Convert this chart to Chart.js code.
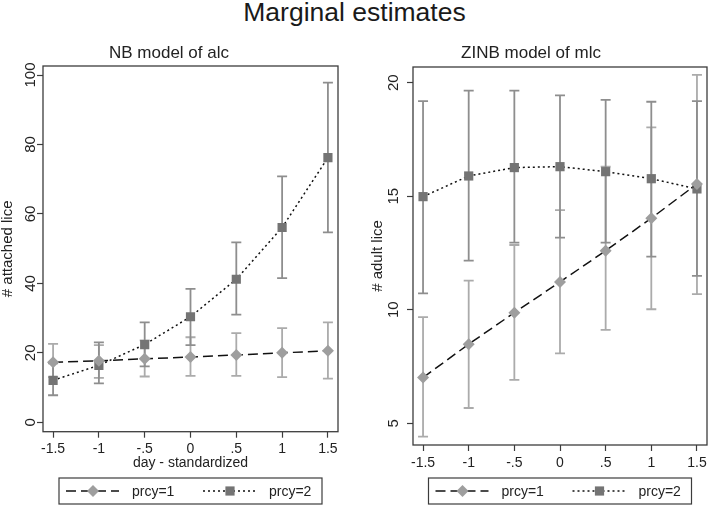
<!DOCTYPE html>
<html>
<head>
<meta charset="utf-8">
<script src="https://cdn.jsdelivr.net/npm/chart.js@4/dist/chart.umd.min.js"></script>
<style>
  body { margin: 0; background: #fff; }
  #wrap { position: relative; width: 709px; height: 507px; overflow: hidden; }
  #main-title {
    position: absolute; left: 0; top: 0; width: 709px; text-align: center;
    font: 26.5px/25px "Liberation Sans", Arial, sans-serif; color: #1a1a1a;
  }
  .panel { position: absolute; top: 35px; height: 472px; }
  #alc-panel { left: 0; width: 350px; }
  #mlc-panel { left: 355px; width: 354px; }
</style>
</head>
<body>
<div id="wrap">
  <div id="main-title">Marginal estimates</div>
  <div class="panel" id="alc-panel"><canvas id="alc-chart"></canvas></div>
  <div class="panel" id="mlc-panel"><canvas id="mlc-chart"></canvas></div>
</div>
<script>
// day - standardized
const xVals       = [-1.5, -1, -0.5, 0, 0.5, 1, 1.5];
const xTickLabels = ['-1.5', '-1', '-.5', '0', '.5', '1', '1.5'];
const seriesLabels = ['prcy=1', 'prcy=2'];

// NB model of alc (# attached lice)
const alc1   = [17.3, 17.7, 18.3, 18.8, 19.4, 20.0, 20.6];
const alc1Lo = [13.0, 12.8, 13.2, 13.4, 13.4, 13.0, 12.6];
const alc1Hi = [22.6, 22.2, 23.6, 24.5, 25.7, 27.1, 28.8];
const alc2   = [12.1, 16.4, 22.4, 30.4, 41.2, 56.1, 76.2];
const alc2Lo = [7.8, 11.2, 16.1, 22.2, 31.0, 41.5, 54.7];
const alc2Hi = [17.0, 23.0, 28.8, 38.4, 51.8, 70.8, 97.8];
const alcYTicks = [0, 20, 40, 60, 80, 100];

// ZINB model of mlc (# adult lice)
const mlc1   = [7.01, 8.48, 9.87, 11.22, 12.60, 14.03, 15.54];
const mlc1Lo = [4.41, 5.67, 6.91, 8.08, 9.11, 10.02, 10.69];
const mlc1Hi = [9.67, 11.28, 12.85, 14.39, 16.3, 18.03, 20.34];
const mlc2   = [14.98, 15.89, 16.26, 16.30, 16.08, 15.77, 15.32];
const mlc2Lo = [10.72, 12.16, 12.95, 13.17, 12.95, 12.34, 11.49];
const mlc2Hi = [19.19, 19.65, 19.65, 19.44, 19.24, 19.16, 19.19];
const mlcYTicks = [5, 10, 15, 20];

Chart.defaults.font.family = '"Liberation Sans", Arial, sans-serif';
Chart.defaults.color = '#222';

const TEXT   = '#222';
const FRAME  = '#3c3c3c';
const LIGHT  = '#9e9e9e';   // diamonds
const DARK   = '#747474';   // squares
const CI1    = '#ababab';
const CI2    = '#8e8e8e';

const pts = vals => vals.map((v, i) => ({ x: xVals[i], y: v }));

// rcap-style confidence intervals, drawn under the connected lines
const errorBars = {
  id: 'errorBars',
  beforeDatasetsDraw(chart, args, opts) {
    const { ctx, chartArea: a, scales: { x, y } } = chart;
    ctx.save();
    ctx.strokeStyle = FRAME;
    ctx.lineWidth = 1.3;
    ctx.strokeRect(a.left, a.top, a.right - a.left, a.bottom - a.top);
    opts.bars.forEach(b => {
      ctx.strokeStyle = b.color;
      ctx.lineWidth = 1.8;
      xVals.forEach((xv, i) => {
        const px  = x.getPixelForValue(xv);
        const top = y.getPixelForValue(b.hi[i]);
        const bot = y.getPixelForValue(b.lo[i]);
        ctx.beginPath();
        ctx.moveTo(px, top);     ctx.lineTo(px, bot);
        ctx.moveTo(px - 5, top); ctx.lineTo(px + 5, top);
        ctx.moveTo(px - 5, bot); ctx.lineTo(px + 5, bot);
        ctx.stroke();
      });
    });
    ctx.restore();
  }
};

// Stata-like boxed legend under the plot
const boxLegend = {
  id: 'boxLegend',
  afterDraw(chart) {
    const { ctx, chartArea } = chart;
    const w = 263, h = 26;
    const left = (chartArea.left + chartArea.right) / 2 - w / 2;
    const top  = chart.height - 29;
    const cy   = top + h / 2;
    ctx.save();
    ctx.strokeStyle = FRAME;
    ctx.lineWidth = 1.2;
    ctx.strokeRect(left, top, w, h);
    [7, 144].forEach((off, i) => {
      const ds = chart.data.datasets[i];
      const x0 = left + off;
      ctx.strokeStyle = ds.borderColor;
      ctx.lineWidth = ds.borderWidth;
      ctx.setLineDash(ds.borderDash);
      ctx.beginPath(); ctx.moveTo(x0, cy); ctx.lineTo(x0 + 53, cy); ctx.stroke();
      ctx.setLineDash([]);
      const mx = x0 + 27;
      ctx.fillStyle = ds.pointBackgroundColor;
      ctx.beginPath();
      if (ds.pointStyle === 'rect') {
        ctx.rect(mx - 4.6, cy - 4.6, 9.2, 9.2);
      } else {
        ctx.moveTo(mx, cy - 6); ctx.lineTo(mx + 6, cy);
        ctx.lineTo(mx, cy + 6); ctx.lineTo(mx - 6, cy);
        ctx.closePath();
      }
      ctx.fill();
      ctx.fillStyle = TEXT;
      ctx.font = '14px "Liberation Sans", Arial, sans-serif';
      ctx.textBaseline = 'middle';
      ctx.fillText(ds.label, x0 + 66, cy + 1);
    });
    ctx.restore();
  }
};

function makeChart(id, cfg) {
  const datasets = [
    {
      label: seriesLabels[0], data: pts(cfg.s1),
      borderColor: '#111', borderWidth: 1.5, borderDash: [10, 5],
      pointStyle: 'rectRot', pointRadius: 6, pointHoverRadius: 6,
      pointBackgroundColor: LIGHT, pointBorderColor: LIGHT, pointBorderWidth: 0,
    },
    {
      label: seriesLabels[1], data: pts(cfg.s2),
      borderColor: '#111', borderWidth: 1.5, borderDash: [2, 3],
      pointStyle: 'rect', pointRadius: 6.5, pointHoverRadius: 6.5,
      pointBackgroundColor: DARK, pointBorderColor: DARK, pointBorderWidth: 0,
    },
  ];

  return new Chart(document.getElementById(id), {
    type: 'line',
    data: { datasets },
    options: {
      responsive: true,
      maintainAspectRatio: false,
      animation: false,
      layout: { padding: cfg.pad, autoPadding: false },
      plugins: {
        legend: { display: false },
        tooltip: { enabled: false },
        title: {
          display: true, text: cfg.title, color: TEXT,
          font: { size: 17, weight: 'normal' },
          padding: cfg.titlePad,
        },
        errorBars: {
          bars: [
            { lo: cfg.s1Lo, hi: cfg.s1Hi, color: CI1 },
            { lo: cfg.s2Lo, hi: cfg.s2Hi, color: CI2 },
          ],
        },
      },
      scales: {
        x: {
          type: 'linear', min: -1.61, max: 1.61,
          afterBuildTicks: s => { s.ticks = xVals.map(v => ({ value: v })); },
          afterFit: s => { s.height = cfg.xHeight; s.paddingLeft = 0; s.paddingRight = 0; },
          border: { display: false },
          grid: { drawOnChartArea: false, tickLength: 6, color: FRAME, tickWidth: 1.2 },
          ticks: {
            color: TEXT, padding: cfg.xTickPad, maxRotation: 0,
            font: { size: 14, lineHeight: 1 },
            callback: (v, i) => xTickLabels[i],
          },
          title: {
            display: !!cfg.xTitle, text: cfg.xTitle, color: TEXT,
            font: { size: 14, lineHeight: 1 }, padding: 0,
          },
        },
        y: {
          type: 'linear', min: cfg.yMin, max: cfg.yMax,
          afterBuildTicks: s => { s.ticks = cfg.yTicks.map(v => ({ value: v })); },
          afterFit: s => { s.width = cfg.yWidth; },
          border: { display: false },
          grid: { drawOnChartArea: false, tickLength: 6, color: FRAME, tickWidth: 1.2 },
          ticks: {
            color: TEXT, padding: cfg.yTickPad, minRotation: 90, maxRotation: 90,
            crossAlign: 'center', font: { size: 15, lineHeight: 1 },
          },
          title: {
            display: true, text: cfg.yTitle, color: TEXT,
            font: { size: 15, lineHeight: 1 }, padding: { top: cfg.yTitlePad, bottom: 0 },
          },
        },
      },
    },
    plugins: [errorBars, boxLegend],
  });
}

makeChart('alc-chart', {
  title: 'NB model of alc', yTitle: '# attached lice', xTitle: 'day - standardized',
  s1: alc1, s1Lo: alc1Lo, s1Hi: alc1Hi, s2: alc2, s2Lo: alc2Lo, s2Hi: alc2Hi,
  yMin: -2.7, yMax: 102.6, yTicks: alcYTicks,
  pad: { left: 0, right: 12, top: 0, bottom: 37 },
  titlePad: { top: 7.8, bottom: 2.8 },
  xHeight: 38.3, xTickPad: 4.3,
  yWidth: 43, yTickPad: -6.5, yTitlePad: 0.5,
});

makeChart('mlc-chart', {
  title: 'ZINB model of mlc', yTitle: '# adult lice', xTitle: '',
  s1: mlc1, s1Lo: mlc1Lo, s1Hi: mlc1Hi, s2: mlc2, s2Lo: mlc2Lo, s2Hi: mlc2Hi,
  yMin: 4.04, yMax: 20.69, yTicks: mlcYTicks,
  pad: { left: 0, right: 2, top: 0, bottom: 27 },
  titlePad: { top: 7.8, bottom: 3.8 },
  xHeight: 35, xTickPad: 5,
  yWidth: 58, yTickPad: 4.6, yTitlePad: 15.5,
});
</script>
</body>
</html>
